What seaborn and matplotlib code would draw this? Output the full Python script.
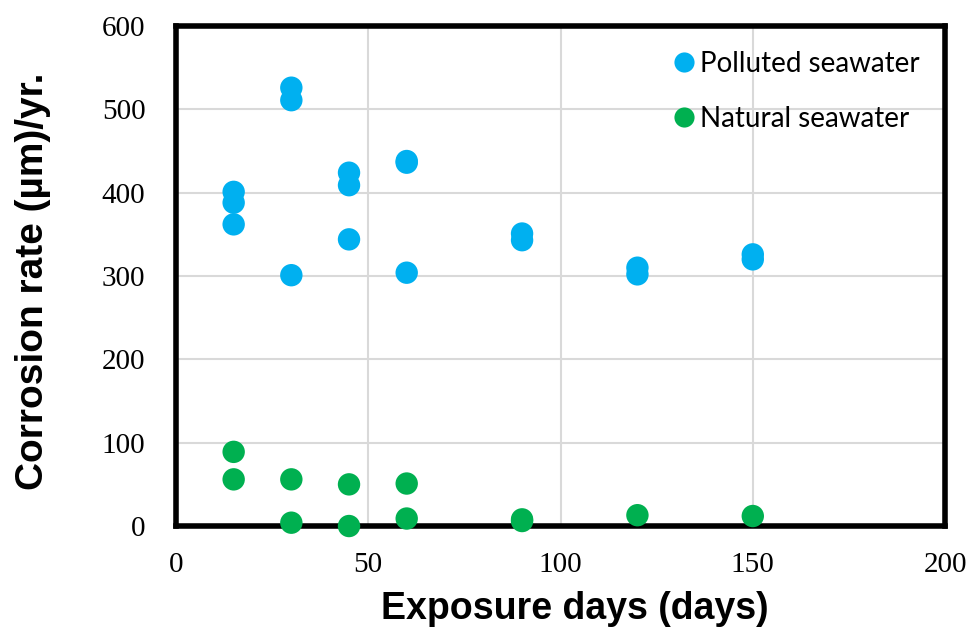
import pandas as pd
import matplotlib.pyplot as plt
import seaborn as sns

# exposure days and corrosion rates (um/yr)
polluted_days = [15, 15, 15, 30, 30, 30, 45, 45, 45, 60, 60, 60, 90, 90, 120, 120, 150, 150]
polluted_rate = [401, 388, 362, 526, 511, 301, 424, 409, 344, 438, 436, 304, 351, 343, 310, 302, 326, 320]
natural_days = [15, 15, 30, 30, 45, 45, 60, 60, 90, 90, 120, 150]
natural_rate = [89, 56, 56, 4, 50, 0, 51, 9, 8, 6, 13, 12]
labels = ["Polluted seawater", "Natural seawater"]
colors = ["#00B0F0", "#00B050"]

df = pd.concat([
    pd.DataFrame({"days": polluted_days, "rate": polluted_rate, "water": labels[0]}),
    pd.DataFrame({"days": natural_days, "rate": natural_rate, "water": labels[1]}),
])

sns.set_style("white")
plt.rcParams["text.color"] = "black"
plt.rcParams["axes.labelcolor"] = "black"
plt.rcParams["xtick.color"] = "black"
plt.rcParams["ytick.color"] = "black"

fig = plt.figure(figsize=(9.76, 6.38), dpi=100)
ax = fig.add_axes([0.1803, 0.1755, 0.788, 0.7837])

sns.scatterplot(data=df, x="days", y="rate", hue="water", palette=colors,
                s=260, linewidth=0, ax=ax, zorder=3, clip_on=False)

ax.set_xlim(0, 200)
ax.set_ylim(0, 600)
ax.set_xticks(range(0, 201, 50))
ax.set_yticks(range(0, 601, 100))
ax.grid(True, color="#D9D9D9", linewidth=1.5)
ax.set_axisbelow(True)
for sp in ax.spines.values():
    sp.set_color("black")
    sp.set_linewidth(4)
ax.tick_params(direction="in", length=4, width=1.5, color="black")
for lab in ax.get_xticklabels() + ax.get_yticklabels():
    lab.set_family("Liberation Serif")
    lab.set_fontsize(21)
ax.tick_params(axis="x", pad=19)
ax.tick_params(axis="y", pad=22)

ax.set_xlabel("Exposure days (days)", family="Liberation Sans", fontweight="bold",
              fontsize=27)
ax.set_ylabel("Corrosion rate (\u00b5m)/yr.", family="Liberation Sans", fontweight="bold",
              fontsize=28)
ax.xaxis.set_label_coords(0.518, -0.13)
ax.yaxis.set_label_coords(-0.163, 0.49)

leg = ax.legend(loc="upper right", frameon=False, prop={"family": "Lato", "size": 20},
                handletextpad=-0.42, labelspacing=1.03, markerscale=0.9,
                borderaxespad=0.5)

fig.savefig("out.png", dpi=100)
